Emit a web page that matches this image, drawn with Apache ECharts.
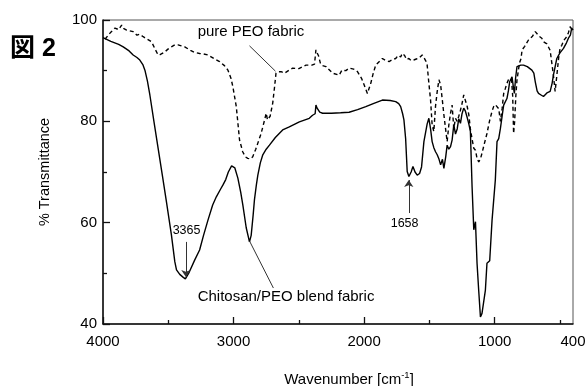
<!DOCTYPE html>
<html><head><meta charset="utf-8">
<script src="https://cdn.jsdelivr.net/npm/echarts@6/dist/echarts.min.js"></script>
<style>html,body{margin:0;padding:0;background:#fff}#c{width:587px;height:386px}</style>
</head><body><div id="c"></div>
<script>
// Chitosan/PEO blend fabric (solid): [wavenumber, %T]
const blend = [
[4000,96.5],[3940,95.8],[3880,95.2],[3845,94.7],[3800,93.9],[3769,93.1],[3740,92.6],[3718,92.1],[3695,91.2],[3679,90.1],[3660,88.0],[3641,85.2],[3610,80.0],[3578,74.7],[3545,69.3],[3514,64.1],[3476,57.6],[3450,52.3],[3437,50.7],[3412,49.8],[3385,49.2],[3369,48.9],[3340,50.2],[3298,52.6],[3260,54.6],[3230,57.5],[3196,60.5],[3160,63.5],[3132,65.1],[3100,66.6],[3082,67.4],[3060,68.5],[3040,70.0],[3015,71.2],[3005,71.4],[2990,70.8],[2967,68.8],[2945,66.0],[2929,63.5],[2903,59.0],[2885,57.0],[2878,56.2],[2865,57.5],[2850,61.5],[2840,64.5],[2825,67.5],[2814,69.4],[2795,71.8],[2776,73.4],[2750,74.5],[2725,75.3],[2680,76.8],[2624,78.3],[2573,78.9],[2496,79.9],[2420,80.6],[2395,81.2],[2375,81.5],[2369,83.2],[2360,82.6],[2350,82.9],[2340,81.8],[2318,81.6],[2250,81.6],[2180,81.7],[2115,81.8],[2050,82.3],[1987,82.9],[1930,83.5],[1860,84.2],[1800,84.1],[1758,83.9],[1735,83.5],[1720,82.9],[1705,81.5],[1695,80.3],[1682,76.6],[1670,70.1],[1657,69.1],[1640,70.0],[1626,71.1],[1610,70.0],[1593,69.4],[1575,69.7],[1560,71.0],[1542,76.0],[1517,79.5],[1504,80.6],[1491,78.5],[1479,76.0],[1466,74.8],[1453,74.0],[1440,73.4],[1426,72.5],[1414,71.4],[1400,72.5],[1389,70.7],[1375,73.0],[1364,75.3],[1351,74.5],[1338,75.0],[1326,76.3],[1313,79.3],[1300,77.5],[1287,78.5],[1275,80.5],[1262,79.6],[1250,81.5],[1237,82.6],[1224,82.0],[1211,80.8],[1198,79.5],[1186,78.0],[1173,67.1],[1160,58.6],[1147,60.2],[1135,52.0],[1122,46.5],[1109,41.4],[1097,42.1],[1084,42.1],[1071,46.7],[1059,52.0],[1053,52.3],[1038,52.5],[1020,60.5],[995,68.4],[982,76.0],[969,76.6],[956,78.6],[943,81.0],[931,83.2],[906,84.5],[895,86.0],[885,87.8],[867,88.8],[858,87.0],[849,85.5],[840,88.5],[829,90.8],[800,91.1],[779,91.1],[750,90.8],[715,90.1],[700,89.5],[689,87.8],[675,86.0],[664,85.5],[645,85.2],[626,84.9],[600,85.6],[575,85.9],[560,87.5],[550,89.1],[524,92.4],[500,93.5],[473,94.4],[450,95.5],[435,96.4],[420,97.0],[410,98.4],[400,98.0]
];
// pure PEO fabric (dashed): [wavenumber, %T]
const peo = [
[3985,96.2],[3972,96.4],[3940,97.6],[3908,98.4],[3880,98.1],[3857,99.0],[3840,98.3],[3819,98.0],[3800,97.9],[3769,97.7],[3740,97.0],[3720,97.2],[3692,96.7],[3660,96.2],[3628,95.7],[3600,94.2],[3578,93.1],[3560,93.2],[3527,93.7],[3500,94.3],[3476,94.7],[3450,95.1],[3425,95.1],[3400,94.9],[3374,94.7],[3330,94.0],[3300,93.6],[3260,93.4],[3230,93.3],[3196,93.1],[3150,92.4],[3107,91.8],[3070,91.0],[3043,90.1],[3020,88.5],[3005,86.8],[2979,82.9],[2954,76.3],[2930,74.0],[2910,73.0],[2891,72.7],[2870,72.6],[2853,73.0],[2830,74.5],[2814,75.7],[2790,77.5],[2776,78.9],[2760,80.5],[2750,81.6],[2740,80.3],[2720,81.0],[2700,83.6],[2685,87.0],[2675,89.5],[2655,89.8],[2636,89.8],[2610,89.5],[2580,90.0],[2547,90.5],[2500,90.4],[2445,91.1],[2400,91.1],[2380,91.3],[2369,94.1],[2360,93.5],[2350,93.0],[2335,91.5],[2320,91.0],[2292,90.8],[2241,89.5],[2191,89.1],[2170,90.1],[2140,90.0],[2115,90.5],[2080,90.3],[2051,89.8],[2020,88.5],[2000,87.2],[1975,85.5],[1949,87.5],[1930,89.5],[1911,91.1],[1880,91.9],[1860,92.4],[1835,92.0],[1809,91.8],[1780,92.2],[1758,92.4],[1740,93.0],[1720,92.7],[1708,93.4],[1690,93.0],[1675,92.2],[1657,92.4],[1640,92.0],[1620,92.1],[1600,92.3],[1580,92.5],[1555,93.1],[1540,92.5],[1525,91.8],[1517,91.1],[1505,87.8],[1491,84.2],[1479,79.3],[1466,78.0],[1453,83.0],[1440,85.9],[1427,88.2],[1414,87.2],[1400,84.0],[1389,81.3],[1376,78.5],[1364,76.0],[1351,79.3],[1338,81.6],[1326,83.2],[1313,78.6],[1300,80.6],[1287,80.0],[1275,81.0],[1262,82.2],[1250,83.5],[1237,85.2],[1225,85.2],[1211,83.0],[1198,81.3],[1186,78.5],[1173,76.5],[1160,74.7],[1147,74.3],[1135,72.7],[1122,72.0],[1110,72.5],[1097,73.7],[1080,75.5],[1059,77.6],[1040,80.0],[1020,82.0],[1008,82.9],[995,83.3],[982,83.6],[969,82.5],[956,80.0],[943,82.5],[931,85.5],[918,86.5],[906,87.5],[890,88.5],[880,88.8],[870,88.0],[862,85.0],[855,77.6],[847,80.0],[838,85.0],[829,88.2],[810,91.5],[798,92.4],[790,94.1],[770,94.8],[740,96.1],[710,96.8],[689,97.7],[676,97.4],[660,96.8],[639,96.4],[626,95.7],[600,95.3],[575,94.0],[562,93.7],[550,89.1],[537,85.9],[524,89.0],[510,92.5],[499,94.4],[486,95.0],[470,96.0],[448,96.7],[435,97.5],[422,98.7],[410,98.2],[400,98.5]
];
const xLabels = [4000, 3000, 2000, 1000, 400];
const xMajorTicks = [4000, 3000, 2000, 1000];
const xMinorTicks = [3500, 2500, 1500, 500];
// annotations in data coordinates
const arrows = [ {from:[3365,56.2], to:[3365,49.3]}, {from:[1658,61.9], to:[1658,68.4]} ];
const leaders = [ {from:[2878,94.9], to:[2679,89.9]}, {from:[2878,56.4], to:[2695,47.1]} ];
const texts = [
  {text:'pure PEO fabric', at:[3275,97.6], align:'left', size:15},
  {text:'Chitosan/PEO blend fabric', at:[3275,45.3], align:'left', size:15},
  {text:'3365', at:[3360,58.4], align:'center', size:12.5},
  {text:'1658', at:[1690,59.9], align:'center', size:12.5}
];

const FONT = 'Liberation Sans, Arial, sans-serif';
const chart = echarts.init(document.getElementById('c'), null, {renderer:'canvas'});
const mk = [];
arrows.forEach(a => mk.push([{coord:a.from, symbol:'none'},{coord:a.to, symbol:'arrow'}]));
leaders.forEach(a => mk.push([{coord:a.from, symbol:'none'},{coord:a.to, symbol:'none'}]));

chart.setOption({
  animation:false,
  backgroundColor:'#fff',
  grid:{left:103, right:14, top:20, bottom:62, outerBoundsMode:'none', containLabel:false, show:true, borderColor:'#555', borderWidth:1},
  xAxis:[{
    type:'value', inverse:true, min:400, max:4000,
    name:'Wavenumber [cm{sup|-1}]', nameLocation:'middle', nameGap:46,
    nameTextStyle:{fontFamily:FONT, fontSize:15, color:'#000', padding:[0,0,0,22],
      rich:{sup:{fontFamily:FONT, fontSize:9.5, color:'#000', padding:[0,0,9,0]}}},
    axisLine:{show:true, lineStyle:{color:'#111', width:1.5}},
    axisTick:{show:true, inside:true, length:7, customValues:xMajorTicks, lineStyle:{color:'#111', width:1.3}},
    axisLabel:{customValues:xLabels, formatter:v => String(v), fontFamily:FONT, fontSize:15, color:'#000', margin:10},
    splitLine:{show:false}
  },{
    type:'value', inverse:true, min:400, max:4000, position:'bottom',
    axisLine:{show:false},
    axisTick:{show:true, inside:true, length:4, customValues:xMinorTicks, lineStyle:{color:'#111', width:1.3}},
    axisLabel:{show:false}, splitLine:{show:false}
  }],
  yAxis:{
    type:'value', min:40, max:100, interval:20,
    name:'% Transmittance', nameLocation:'middle', nameGap:51, nameRotate:90,
    nameTextStyle:{fontFamily:FONT, fontSize:14.5, color:'#000'},
    axisLine:{show:true, lineStyle:{color:'#111', width:1.5}},
    axisTick:{show:true, inside:true, length:7, lineStyle:{color:'#111', width:1.3}},
    minorTick:{show:true, splitNumber:2, length:4, lineStyle:{color:'#111', width:1.3}},
    axisLabel:{fontFamily:FONT, fontSize:15, color:'#000', margin:6},
    splitLine:{show:false}
  },
  series:[{
    name:'Chitosan/PEO blend fabric', type:'line', data:blend, showSymbol:false, symbol:'none',
    lineStyle:{color:'#000', width:1.4}, z:3,
    markLine:{silent:true, symbolSize:7, label:{show:false}, emphasis:{disabled:true},
      lineStyle:{color:'#333', width:1, type:'solid'}, data:mk}
  },{
    name:'pure PEO fabric', type:'line', data:peo, showSymbol:false, symbol:'none',
    lineStyle:{color:'#000', width:1.4, type:[4,3]}, z:2
  }]
});

const g = [{type:'text', left:10, top:37, style:{text:'図 2', fontSize:25, fontWeight:'bold', fontFamily:'Liberation Sans, Noto Sans CJK JP, sans-serif', fill:'#000'}}];
texts.forEach(t => {
  const p = chart.convertToPixel({xAxisIndex:0, yAxisIndex:0}, t.at);
  g.push({type:'text', x:p[0], y:p[1], style:{text:t.text, fontFamily:FONT, fontSize:t.size, fill:'#000', align:t.align, verticalAlign:'middle'}});
});
chart.setOption({graphic:g});
</script></body></html>
